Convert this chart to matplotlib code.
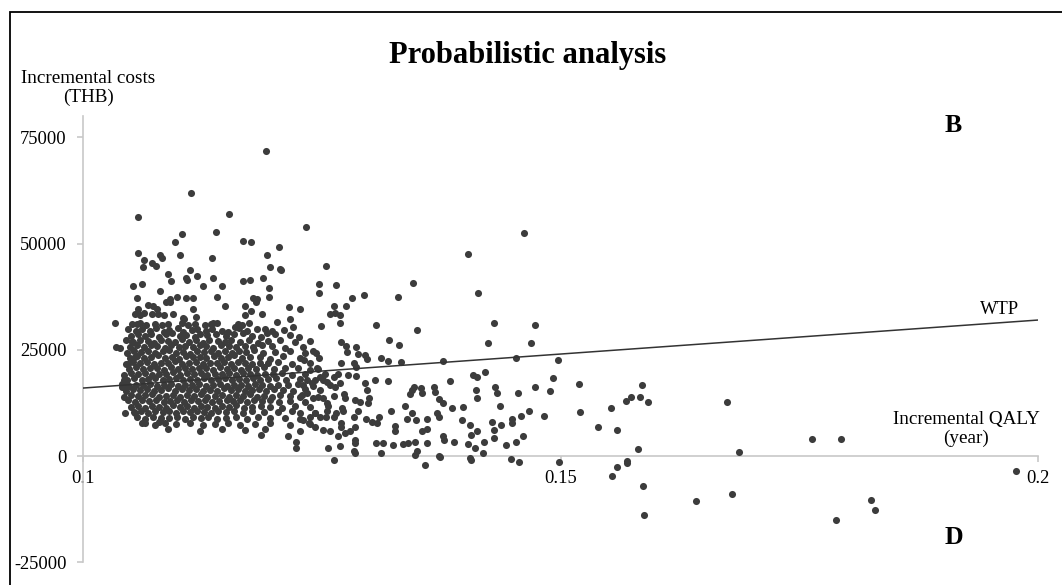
import matplotlib
matplotlib.use("Agg")
import matplotlib.pyplot as plt
from matplotlib.patches import Rectangle
import numpy as np

plt.rcParams['font.family'] = ['Liberation Serif', 'DejaVu Serif']

# willingness-to-pay threshold (THB per QALY)
wtp = 160000

# dense core of the cloud, upper half (cost ~19000-30000)
core_hi_qaly = [
    0.1047, 0.1055, 0.1061, 0.1070, 0.1076, 0.1085, 0.1090, 0.1099, 0.1104, 0.1114, 0.1119, 0.1128, 0.1135, 0.1145, 0.1152, 0.1163, 0.1171, 0.1182, 0.1198, 0.1210,
    0.1050, 0.1057, 0.1065, 0.1071, 0.1079, 0.1087, 0.1093, 0.1101, 0.1108, 0.1117, 0.1122, 0.1130, 0.1139, 0.1149, 0.1158, 0.1167, 0.1177, 0.1186, 0.1201, 0.1216, 0.1226,
    0.1045, 0.1052, 0.1059, 0.1068, 0.1074, 0.1081, 0.1089, 0.1096, 0.1103, 0.1111, 0.1118, 0.1125, 0.1132, 0.1141, 0.1148, 0.1155, 0.1164, 0.1174, 0.1183, 0.1193, 0.1206, 0.1222, 0.1237,
    0.1049, 0.1056, 0.1064, 0.1071, 0.1077, 0.1086, 0.1092, 0.1100, 0.1106, 0.1115, 0.1122, 0.1129, 0.1136, 0.1144, 0.1153, 0.1160, 0.1169, 0.1178, 0.1187, 0.1198, 0.1211,
    0.1046, 0.1053, 0.1060, 0.1068, 0.1075, 0.1083, 0.1090, 0.1097, 0.1104, 0.1112, 0.1119, 0.1126, 0.1134, 0.1141, 0.1148, 0.1156, 0.1163, 0.1170, 0.1179, 0.1188, 0.1201, 0.1216, 0.1232,
    0.1049, 0.1056, 0.1064, 0.1071, 0.1078, 0.1086, 0.1093, 0.1100, 0.1108, 0.1115, 0.1122, 0.1129, 0.1137, 0.1144, 0.1151, 0.1158, 0.1166, 0.1175, 0.1185, 0.1195, 0.1209, 0.1227,
    0.1045, 0.1052, 0.1059, 0.1067, 0.1074, 0.1081, 0.1089, 0.1096, 0.1103, 0.1111, 0.1118, 0.1125, 0.1133, 0.1140, 0.1147, 0.1155, 0.1162, 0.1169, 0.1177, 0.1185, 0.1193, 0.1204, 0.1219, 0.1237,
    0.1048, 0.1055, 0.1063, 0.1070, 0.1077, 0.1085, 0.1092, 0.1099, 0.1106, 0.1114, 0.1121, 0.1128, 0.1136, 0.1143, 0.1150, 0.1158, 0.1165, 0.1172, 0.1181, 0.1189, 0.1200, 0.1211, 0.1225, 0.1246,
    0.1043, 0.1050, 0.1057, 0.1065, 0.1072, 0.1079, 0.1087, 0.1094, 0.1101, 0.1109, 0.1116, 0.1123, 0.1130, 0.1138, 0.1145, 0.1153, 0.1160, 0.1167, 0.1175, 0.1182, 0.1190, 0.1199, 0.1208, 0.1219, 0.1232, 0.1253,
]
core_hi_cost = [
    29900, 29300, 29800, 29400, 30100, 29200, 29700, 30200, 29100, 29600, 30000, 29300, 29800, 29500, 29100, 30200, 29400, 29900, 29300, 29700,
    28200, 28800, 28300, 28700, 28100, 28600, 28900, 28300, 28500, 28000, 28700, 28400, 28800, 28200, 28600, 28900, 28300, 28100, 28700, 28400, 28000,
    27300, 26800, 27400, 27000, 26700, 27300, 27100, 26800, 27500, 26900, 27200, 26700, 27400, 27000, 26800, 27300, 26900, 27200, 26700, 27100, 27400, 26800, 27000,
    25700, 26200, 25600, 26100, 25800, 25500, 26200, 25700, 26000, 25600, 26100, 25800, 25500, 26200, 25900, 25600, 26000, 25700, 26100, 25800, 25500,
    24300, 24800, 24400, 24700, 24200, 24600, 24900, 24300, 24500, 24100, 24700, 24400, 24800, 24200, 24600, 24300, 24700, 24400, 24900, 24200, 24500, 24800, 24300,
    23100, 23500, 23000, 23400, 23700, 23100, 23300, 22900, 23600, 23200, 23400, 23000, 23500, 23100, 23300, 23700, 23000, 23400, 23200, 22900, 23500, 23100,
    21700, 22200, 21800, 22100, 21600, 22000, 21800, 22300, 21700, 21900, 22200, 21600, 22000, 21800, 22100, 21700, 22200, 21900, 21600, 22000, 21800, 22100, 21700, 21900,
    20500, 20900, 20400, 20800, 20600, 20300, 20900, 20500, 20700, 20400, 20800, 20600, 20200, 20900, 20500, 20700, 20300, 20800, 20500, 20900, 20400, 20600, 20800, 20500,
    19100, 19500, 19200, 19600, 19000, 19400, 19300, 19700, 19100, 19500, 19200, 19600, 19000, 19400, 19200, 19500, 19100, 19600, 19300, 19000, 19400, 19200, 19600, 19100, 19400, 19200,
]

# dense core, lower half (cost ~6000-18000)
core_lo_qaly = [
    0.1046, 0.1053, 0.1061, 0.1068, 0.1075, 0.1083, 0.1090, 0.1097, 0.1104, 0.1112, 0.1119, 0.1126, 0.1134, 0.1141, 0.1148, 0.1156, 0.1163, 0.1170, 0.1178, 0.1185, 0.1193, 0.1202, 0.1212, 0.1227, 0.1243,
    0.1041, 0.1048, 0.1055, 0.1063, 0.1070, 0.1077, 0.1085, 0.1092, 0.1099, 0.1106, 0.1114, 0.1121, 0.1128, 0.1136, 0.1143, 0.1150, 0.1158, 0.1165, 0.1172, 0.1180, 0.1187, 0.1195, 0.1204, 0.1214, 0.1225, 0.1240, 0.1258,
    0.1045, 0.1052, 0.1059, 0.1067, 0.1074, 0.1081, 0.1089, 0.1096, 0.1103, 0.1111, 0.1118, 0.1125, 0.1133, 0.1140, 0.1147, 0.1155, 0.1162, 0.1169, 0.1177, 0.1184, 0.1191, 0.1200, 0.1209, 0.1220, 0.1232, 0.1248,
    0.1043, 0.1050, 0.1057, 0.1065, 0.1072, 0.1079, 0.1087, 0.1094, 0.1101, 0.1109, 0.1116, 0.1123, 0.1130, 0.1138, 0.1145, 0.1153, 0.1160, 0.1167, 0.1175, 0.1182, 0.1189, 0.1198, 0.1206, 0.1216, 0.1229, 0.1246, 0.1263,
    0.1047, 0.1054, 0.1061, 0.1069, 0.1076, 0.1084, 0.1091, 0.1098, 0.1105, 0.1113, 0.1120, 0.1127, 0.1135, 0.1142, 0.1150, 0.1157, 0.1164, 0.1171, 0.1179, 0.1187, 0.1195, 0.1205, 0.1216, 0.1232,
    0.1050, 0.1057, 0.1065, 0.1072, 0.1079, 0.1087, 0.1094, 0.1101, 0.1109, 0.1116, 0.1123, 0.1130, 0.1138, 0.1145, 0.1153, 0.1160, 0.1168, 0.1177, 0.1186, 0.1195, 0.1208, 0.1222, 0.1237, 0.1256,
    0.1053, 0.1060, 0.1068, 0.1075, 0.1083, 0.1090, 0.1097, 0.1104, 0.1112, 0.1119, 0.1126, 0.1134, 0.1141, 0.1149, 0.1158, 0.1167, 0.1177, 0.1189, 0.1204, 0.1219, 0.1243,
    0.1056, 0.1065, 0.1073, 0.1081, 0.1090, 0.1098, 0.1106, 0.1115, 0.1123, 0.1131, 0.1140, 0.1149, 0.1160, 0.1171, 0.1183, 0.1195, 0.1211, 0.1227, 0.1248,
    0.1065, 0.1075, 0.1086, 0.1097, 0.1112, 0.1125, 0.1138, 0.1151, 0.1164, 0.1180, 0.1195, 0.1216, 0.1237,
    0.1089, 0.1122, 0.1145, 0.1169, 0.1190, 0.1227,
]
core_lo_cost = [
    18000, 18300, 17900, 18200, 18400, 17800, 18100, 18300, 17900, 18200, 18000, 18400, 17800, 18100, 18300, 17900, 18200, 18000, 18400, 17800, 18100, 18300, 17900, 18200, 18000,
    16900, 16500, 16800, 16600, 17000, 16400, 16700, 16900, 16500, 16800, 16600, 17000, 16400, 16700, 16900, 16500, 16800, 16600, 16400, 16900, 16700, 16500, 16800, 16600, 16900, 16500, 16700,
    15400, 15800, 15500, 15700, 15300, 15600, 15900, 15400, 15700, 15500, 15800, 15300, 15600, 15400, 15900, 15500, 15700, 15300, 15600, 15800, 15400, 15700, 15500, 15300, 15800, 15600,
    14000, 14400, 14100, 14300, 14500, 13900, 14200, 14400, 14000, 14300, 14100, 14500, 13900, 14200, 14400, 14000, 14300, 14100, 14500, 13900, 14200, 14000, 14400, 14100, 14300, 13900, 14200,
    13200, 12800, 13100, 12900, 13300, 12700, 13000, 13200, 12800, 13100, 12900, 13300, 12700, 13000, 13200, 12900, 13100, 12800, 13300, 12900, 13100, 12700, 13000, 12800,
    11500, 11800, 11400, 11700, 11600, 11300, 11900, 11500, 11700, 11400, 11800, 11600, 11300, 11700, 11500, 11900, 11400, 11600, 11800, 11500, 11300, 11700, 11500, 11800,
    10300, 10600, 10200, 10500, 10400, 10700, 10200, 10500, 10300, 10600, 10400, 10200, 10600, 10300, 10500, 10200, 10600, 10400, 10300, 10500, 10200,
    9100, 8800, 9200, 8900, 9000, 9300, 8700, 9100, 8900, 9200, 8800, 9000, 9200, 8700, 9100, 8900, 9000, 8800, 9100,
    7700, 7400, 7800, 7500, 7700, 7300, 7600, 7800, 7400, 7600, 7800, 7300, 7600,
    6300, 6000, 6400, 6100, 6300, 6000,
]

# scattered points above the core (cost > 29000)
upper_qaly = [
    0.1191, 0.1113, 0.1057, 0.1153, 0.1233, 0.1139, 0.1103, 0.1096, 0.1167, 0.1176, 0.1205, 0.1057,
    0.1101, 0.1080, 0.1082, 0.1064, 0.1063, 0.1072, 0.1076, 0.1135, 0.1192, 0.1196, 0.1206, 0.1207,
    0.1254, 0.1089, 0.1092, 0.1112, 0.1108, 0.1109, 0.1119, 0.1136, 0.1052, 0.1061, 0.1080, 0.1125,
    0.1145, 0.1167, 0.1175, 0.1188, 0.1194, 0.1247, 0.1265, 0.1247, 0.1056, 0.1091, 0.1098, 0.1108,
    0.1115, 0.1140, 0.1178, 0.1182, 0.1194, 0.1281, 0.1294, 0.1330, 0.1345, 0.1403, 0.1461, 0.1413,
    0.1262, 0.1275, 0.1227, 0.1258, 0.1264, 0.1269, 0.1269, 0.1249, 0.1306, 0.1430, 0.1473, 0.1349,
    0.1054, 0.1059, 0.1064, 0.1072, 0.1078, 0.1085, 0.1094, 0.1051, 0.1059, 0.1066, 0.1075, 0.1082,
    0.1089, 0.1103, 0.1110, 0.1117, 0.1127, 0.1134, 0.1140, 0.1162, 0.1173, 0.1190, 0.1192, 0.1033,
    0.1105, 0.1118, 0.1136, 0.1087, 0.1159, 0.1166, 0.1203, 0.1216, 0.1215, 0.1057, 0.1068, 0.1073,
    0.1077, 0.1115, 0.1104, 0.1148, 0.1181, 0.1169, 0.1176, 0.1169, 0.1187, 0.1220, 0.1162,
]
upper_cost = [
    71700, 62000, 56200, 56900, 54000, 52700, 52300, 50400, 50600, 50400, 49200, 47800,
    47400, 47200, 46500, 46200, 44500, 45500, 44700, 46500, 47400, 44500, 44100, 43700,
    44600, 42800, 41100, 43800, 41800, 41400, 42400, 41800, 39900, 40400, 38900, 40000,
    39900, 41200, 41400, 41800, 39600, 40400, 40200, 38300, 37200, 37000, 37300, 37200,
    37100, 37300, 37200, 36900, 37300, 37100, 37900, 37300, 40800, 47500, 52400, 38300,
    35400, 35300, 34600, 33300, 33600, 33200, 31300, 30700, 30900, 31300, 30900, 29600,
    33400, 33200, 33600, 33300, 33500, 33200, 33400, 31000, 31200, 30900, 31100, 30800,
    31000, 31200, 30900, 31100, 30900, 31000, 31300, 31000, 31400, 30000, 28900, 31400,
    32200, 32600, 31200, 36300, 30400, 30800, 31600, 32200, 35000, 34700, 35500, 35300,
    34500, 34500, 32500, 35300, 36200, 35300, 34200, 33200, 33400, 30400, 30400,
]

# scattered points to the right of the core (cost 0-29000)
mid_qaly = [
    0.1320, 0.1424, 0.1469, 0.1270, 0.1275, 0.1331, 0.1230, 0.1286, 0.1241, 0.1244, 0.1276, 0.1288,
    0.1295, 0.1312, 0.1319, 0.1333, 0.1377, 0.1453, 0.1497, 0.1231, 0.1247, 0.1297, 0.1270, 0.1283,
    0.1286, 0.1245, 0.1237, 0.1421, 0.1408, 0.1412, 0.1248, 0.1251, 0.1262, 0.1267, 0.1277, 0.1286,
    0.1305, 0.1319, 0.1384, 0.1492, 0.1519, 0.1234, 0.1239, 0.1230, 0.1255, 0.1269, 0.1264, 0.1295,
    0.1297, 0.1346, 0.1344, 0.1342, 0.1354, 0.1355, 0.1367, 0.1368, 0.1411, 0.1412, 0.1431, 0.1433,
    0.1455, 0.1473, 0.1489, 0.1227, 0.1234, 0.1241, 0.1251, 0.1255, 0.1273, 0.1274, 0.1285, 0.1290,
    0.1299, 0.1298, 0.1372, 0.1377, 0.1386, 0.1398, 0.1436, 0.1337, 0.1227, 0.1230, 0.1237, 0.1243,
    0.1255, 0.1254, 0.1262, 0.1265, 0.1271, 0.1272, 0.1283, 0.1288, 0.1296, 0.1302, 0.1308, 0.1310,
    0.1322, 0.1344, 0.1339, 0.1348, 0.1360, 0.1370, 0.1372, 0.1397, 0.1405, 0.1428, 0.1437, 0.1449,
    0.1449, 0.1458, 0.1467, 0.1482, 0.1520, 0.1539, 0.1236, 0.1243, 0.1251, 0.1258, 0.1270, 0.1270,
    0.1267, 0.1274, 0.1279, 0.1284, 0.1326, 0.1326, 0.1355, 0.1360, 0.1377, 0.1378, 0.1406, 0.1412,
    0.1430, 0.1430, 0.1420, 0.1460, 0.1453, 0.1443, 0.1284, 0.1284, 0.1269, 0.1256, 0.1307, 0.1314,
    0.1324, 0.1335, 0.1340, 0.1347, 0.1360, 0.1388, 0.1403, 0.1410, 0.1284, 0.1312, 0.1349, 0.1347,
    0.1419, 0.1223, 0.1223, 0.1283, 0.1214, 0.1186, 0.1044, 0.1061, 0.1079, 0.1041, 0.1043, 0.1047,
    0.1045, 0.1054, 0.1052, 0.1034, 0.1038, 0.1051, 0.1054, 0.1044, 0.1056, 0.1091,
]
mid_cost = [
    27300, 26700, 26500, 26800, 26000, 26100, 25600, 25600, 24700, 24300, 24500, 24000,
    23800, 23100, 22400, 22100, 22300, 23100, 22500, 22500, 23000, 22800, 21800, 21800,
    21000, 20700, 20300, 19800, 19100, 18700, 18700, 17900, 18700, 19300, 19000, 18800,
    17900, 17700, 17600, 18300, 16900, 17900, 17100, 16700, 17400, 17300, 16200, 17300,
    15600, 16300, 15600, 14600, 15900, 14800, 16300, 15000, 15600, 13600, 16300, 14800,
    14800, 16300, 15400, 14000, 14800, 13600, 13600, 12400, 14600, 13600, 13200, 12700,
    13600, 12400, 13400, 12400, 11400, 11600, 11800, 11800, 10100, 8500, 9300, 10100,
    10500, 9300, 9300, 10100, 11300, 10500, 9300, 10500, 8700, 8100, 7700, 9300,
    10600, 10100, 8700, 8400, 8700, 10100, 9300, 8400, 7300, 8100, 7200, 8700,
    7700, 9500, 10600, 9500, 10400, 6900, 7700, 6900, 6200, 5800, 7700, 6900,
    4600, 5400, 5800, 6800, 7100, 5800, 5900, 6300, 4800, 3800, 5000, 6000,
    6200, 4200, 3400, 4600, 3400, 2700, 3800, 3100, 2300, 1900, 3100, 3100,
    2700, 2900, 3100, 3400, 3100, 3200, 2900, 1900, 800, 700, 1100, 300,
    800, 3400, 1900, 1100, 4600, 5000, 10100, 7700, 7900, 16200, 17900, 21600,
    17700, 10200, 24900, 25700, 25500, 26900, 23400, 16300, 31000, 36300,
]

# far right points with positive incremental cost
far_qaly = [0.1585, 0.1568, 0.1573, 0.1583, 0.1591, 0.1553, 0.1674, 0.1559, 0.1763, 0.1793, 0.1581, 0.1687]
far_cost = [16700, 13000, 13800, 14000, 12600, 11400, 12800, 6200, 4100, 3900, 1600, 1000]

# points with negative incremental cost
neg_qaly = [0.1262, 0.1358, 0.1372, 0.1374, 0.1405, 0.1406, 0.1448, 0.1456, 0.1498, 0.1559, 0.1554,
            0.1569, 0.1569, 0.1586, 0.1642, 0.1679, 0.1587, 0.1788, 0.1825, 0.1829, 0.1977]
neg_cost = [-1000, -2000, -100, -200, -500, -900, -700, -1500, -1300, -2500, -4600,
            -1200, -1700, -7100, -10500, -8900, -13800, -15000, -10300, -12800, -3600]

x_ticks = [0.1, 0.15, 0.2]
x_labels = ["0.1", "0.15", "0.2"]
y_ticks = [-25000, 0, 25000, 50000, 75000]
y_labels = ["-25000", "0", "25000", "50000", "75000"]

qaly = np.concatenate([core_hi_qaly, core_lo_qaly, upper_qaly, mid_qaly, far_qaly, neg_qaly])
cost = np.concatenate([core_hi_cost, core_lo_cost, upper_cost, mid_cost, far_cost, neg_cost])

W, H = 1062, 585
fig = plt.figure(figsize=(W / 100, H / 100), dpi=100)
ax = fig.add_axes([83.3 / W, (H - 562.3) / H, 955 / W, (562.3 - 116) / H])

ax.scatter(qaly, cost, s=26, color="#3c3c3c", linewidths=0, zorder=3)

# WTP threshold line
xl = np.array([0.1, 0.2])
ax.plot(xl, wtp * xl, color="#333333", lw=1.1, zorder=4)

ax.set_xlim(0.1, 0.2)
ax.set_ylim(-25000, 80000)
for s in ["top", "right"]:
    ax.spines[s].set_visible(False)
ax.spines["bottom"].set_position(("data", 0))
for s in ["left", "bottom"]:
    ax.spines[s].set_color("#c8c8c8")
    ax.spines[s].set_linewidth(1.2)
ax.set_xticks(x_ticks)
ax.set_xticklabels(x_labels)
ax.set_yticks(y_ticks)
ax.set_yticklabels(y_labels)
ax.tick_params(axis="both", colors="#c8c8c8", labelcolor="black", labelsize=13.3, length=4, width=1.2, direction="out")
ax.tick_params(axis="x", pad=6)
ax.tick_params(axis="y", pad=8)
ax.patch.set_alpha(0)

fig.text(528 / W, 1 - 55 / H, "Probabilistic analysis", ha="center", va="center", fontsize=22, fontweight="bold")
fig.text(88.5 / W, 1 - 88 / H, "Incremental costs\n(THB)", ha="center", va="center", fontsize=13.8, linespacing=1.2)
fig.text(966 / W, 1 - 429 / H, "Incremental QALY\n(year)", ha="center", va="center", fontsize=13.8, linespacing=1.2)
fig.text(1000 / W, 1 - 309 / H, "WTP", ha="center", va="center", fontsize=13.3)
fig.text(953.5 / W, 1 - 126 / H, "B", ha="center", va="center", fontsize=18.5, fontweight="bold")
fig.text(954 / W, 1 - 537.5 / H, "D", ha="center", va="center", fontsize=18.5, fontweight="bold")

# chart border (right and bottom edges fall outside the picture)
fig.patches.append(Rectangle((10 / W, -0.05), 1.2, 1.05 - 12.3 / H, transform=fig.transFigure,
                             fill=False, edgecolor="black", lw=1.3))

fig.savefig("out.png", dpi=100, facecolor="white")
